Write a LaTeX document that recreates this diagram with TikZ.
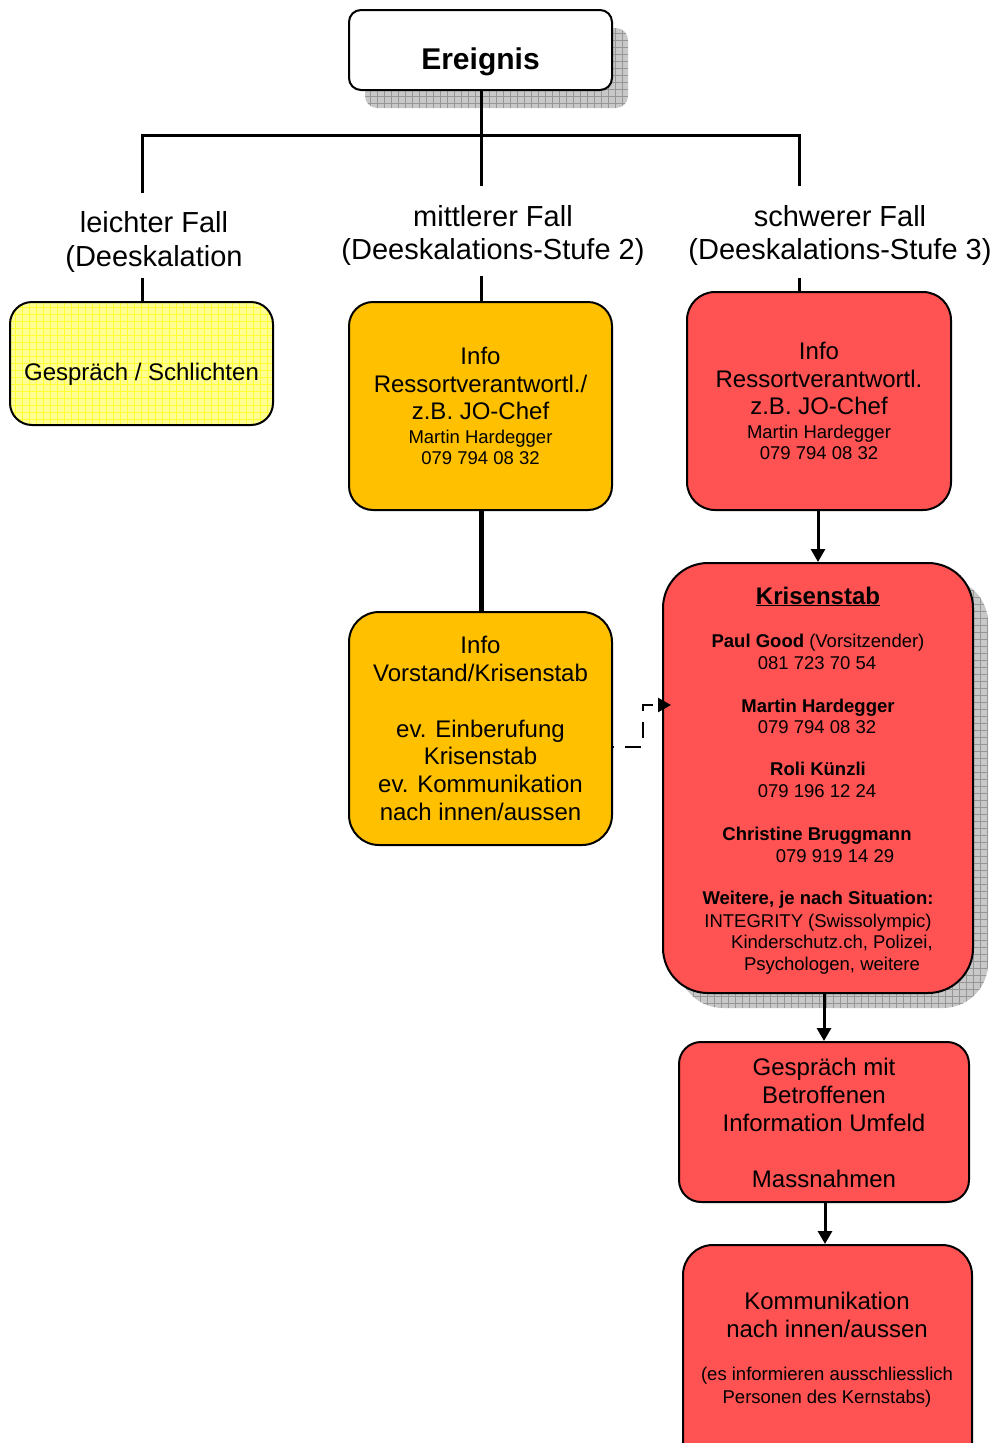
\documentclass[tikz,border=0pt]{standalone}
\usepackage{fontspec}
\setmainfont{Liberation Sans}
\usetikzlibrary{arrows.meta,calc}
\definecolor{orangebox}{RGB}{255,192,0}
\definecolor{redbox}{RGB}{255,82,82}
\definecolor{yellowbox}{RGB}{255,255,150}
\definecolor{yellowgrid}{RGB}{255,255,50}
\definecolor{shadowfill}{RGB}{200,200,200}
\definecolor{shadowgrid}{RGB}{150,150,150}
\tikzset{
  box/.style={draw=black, line width=2pt, inner sep=0pt},
  shadowbox/.style={inner sep=0pt, fill=shadowfill,
    path picture={\draw[shadowgrid, line width=0.5pt] (path picture bounding box.south west) grid[step=7pt] (path picture bounding box.north east);}},
  yellowpat/.style={fill=yellowbox,
    path picture={\draw[yellowgrid, line width=0.5pt] (path picture bounding box.south west) grid[step=7pt] (path picture bounding box.north east);}},
  conn/.style={line width=3pt},
  arr/.style={line width=3pt, -{Triangle[length=13pt,width=14pt]}},
  dasharr/.style={line width=2.5pt, dash pattern=on 16pt off 11pt, dash phase=14pt, -{Triangle[length=13pt,width=14pt]}},
  f29/.style={font=\fontsize{29}{34}\selectfont, anchor=base, inner sep=0pt},
  f24/.style={font=\fontsize{24}{28}\selectfont, anchor=base, inner sep=0pt},
  f18/.style={font=\fontsize{18.5}{22}\selectfont, anchor=base, inner sep=0pt},
}
\begin{document}
\begin{tikzpicture}[x=1pt,y=-1pt]
\useasboundingbox (0,0) rectangle (999,1443);
\clip (0,0) rectangle (999,1443);

% ---- Ereignis ----
\node[shadowbox, rounded corners=12pt, minimum width=263pt, minimum height=80pt] (evs) at (496.5,68) {};
\node[box, fill=white, rounded corners=12pt, minimum width=263pt, minimum height=80pt] (ev) at (480.5,50) {};
\node[f29, font=\fontsize{30}{34}\selectfont\bfseries] (evt) at (480.5,69) {Ereignis};

% ---- tree lines ----
\coordinate (barL) at (142,135);
\coordinate (barR) at (799,135);
\coordinate (d1) at (142,193);
\coordinate (d2) at (481,186);
\coordinate (d3) at (799,186);
\draw[conn] (d1) -- (barL) -- (barR) -- (d3);
\draw[conn] (ev.south -| d2) -- (d2);

% ---- labels ----
\node[f29] (la1) at (154,232) {leichter Fall};
\node[f29] (la2) at (154,266) {(Deeskalation};
\node[f29] (lb1) at (493,226) {mittlerer Fall};
\node[f29] (lb2) at (493,259) {(Deeskalations-Stufe 2)};
\node[f29] (lc1) at (840,226) {schwerer Fall};
\node[f29] (lc2) at (840,259) {(Deeskalations-Stufe 3)};

% ---- level 1 boxes ----
\node[box, yellowpat, rounded corners=22pt, minimum width=263pt, minimum height=123pt] (y) at (141.5,363.5) {};
\node[f24] (yt) at (141.5,380) {Gespräch / Schlichten};

\node[box, fill=orangebox, rounded corners=24pt, minimum width=263pt, minimum height=208pt] (o1) at (480.5,406) {};
\node[f24] (o1a) at (480.5,364) {Info};
\node[f24] (o1b) at (480.5,392) {Ressortverantwortl./};
\node[f24] (o1c) at (480.5,419) {z.B. JO-Chef};
\node[f18] (o1d) at (480.5,443.5) {Martin Hardegger};
\node[f18] (o1e) at (480.5,464.5) {079 794 08 32};

\node[box, fill=redbox, rounded corners=28pt, minimum width=264pt, minimum height=218pt] (r1) at (819,401) {};
\node[f24] (r1a) at (819,359) {Info};
\node[f24] (r1b) at (819,387) {Ressortverantwortl.};
\node[f24] (r1c) at (819,414) {z.B. JO-Chef};
\node[f18] (r1d) at (819,438.5) {Martin Hardegger};
\node[f18] (r1e) at (819,459.5) {079 794 08 32};

\coordinate (u1) at (142,278);
\coordinate (u2) at (481,276);
\coordinate (u3) at (799,278);
\draw[conn] (u1) -- (y.north -| u1);
\draw[conn] (u2) -- (o1.north -| u2);
\draw[conn] (u3) -- (r1.north -| u3);

% ---- orange box 2 ----
\node[box, fill=orangebox, rounded corners=30pt, minimum width=263pt, minimum height=233pt] (o2) at (480.5,728.5) {};
\node[f24] (o2a) at (480.5,653) {Info};
\node[f24] (o2b) at (480.5,681) {Vorstand/Krisenstab};
\node[f24] (o2c) at (480.5,737) {ev. Einberufung};
\node[f24] (o2d) at (480.5,764) {Krisenstab};
\node[f24] (o2e) at (480.5,792) {ev. Kommunikation};
\node[f24] (o2f) at (480.5,820) {nach innen/aussen};
\draw[line width=5pt] (o1.south -| d2) -- (o2.north -| d2);

% ---- Krisenstab ----
\node[shadowbox, rounded corners=45pt, minimum width=310pt, minimum height=430pt] (kss) at (833,793) {};
\node[box, fill=redbox, rounded corners=45pt, minimum width=310pt, minimum height=430pt] (ks) at (818,778) {};
\node[f24, font=\fontsize{24}{28}\selectfont\bfseries] (ks0) at (818,604) {\underline{Krisenstab}};
\node[f18] (ks1) at (818,647.5) {\textbf{Paul Good} (Vorsitzender)};
\node[f18] (ks2) at (817,669.5) {081 723 70 54};
\node[f18, font=\fontsize{18.5}{22}\selectfont\bfseries] (ks3) at (818,712.5) {Martin Hardegger};
\node[f18] (ks4) at (817,733.5) {079 794 08 32};
\node[f18, font=\fontsize{18.5}{22}\selectfont\bfseries] (ks5) at (818,775.5) {Roli Künzli};
\node[f18] (ks6) at (817,797.5) {079 196 12 24};
\node[f18, font=\fontsize{18.5}{22}\selectfont\bfseries] (ks7) at (817,840.5) {Christine Bruggmann};
\node[f18] (ks8) at (835,862.5) {079 919 14 29};
\node[f18, font=\fontsize{18.5}{22}\selectfont\bfseries] (ks9) at (818,904.5) {Weitere, je nach Situation:};
\node[f18] (ks10) at (818,927.5) {INTEGRITY (Swissolympic)};
\node[f18] (ks11) at (832,948.5) {Kinderschutz.ch, Polizei,};
\node[f18] (ks12) at (832,970.5) {Psychologen, weitere};

\draw[arr] (r1.south -| ks.north) -- (ks.north);

% dashed connector
\coordinate (dA) at (612,747);
\coordinate (dB) at (643,705);
\draw[dasharr] (dA) -| (dB) -- ($(ks.west |- dB)+(9,0)$);

% ---- Gespräch box ----
\node[box, fill=redbox, rounded corners=22pt, minimum width=290pt, minimum height=160pt] (g) at (824,1122) {};
\node[f24] (ga) at (824,1075) {Gespräch mit};
\node[f24] (gb) at (824,1103) {Betroffenen};
\node[f24] (gc) at (824,1131) {Information Umfeld};
\node[f24] (gd) at (824,1187) {Massnahmen};
\draw[arr] (g.north |- ks.south) -- (g.north);

% ---- Kommunikation box ----
\node[box, fill=redbox, rounded corners=30pt, minimum width=289pt, minimum height=230pt] (k) at (827.5,1360) {};
\node[f24] (ka) at (827,1309) {Kommunikation};
\node[f24] (kb) at (827,1337) {nach innen/aussen};
\node[f18] (kc) at (827,1380.5) {(es informieren ausschliesslich};
\node[f18] (kd) at (827,1403.5) {Personen des Kernstabs)};
\draw[arr] (g.south -| 825,0) -- (k.north -| 825,0);
\end{tikzpicture}
\end{document}
